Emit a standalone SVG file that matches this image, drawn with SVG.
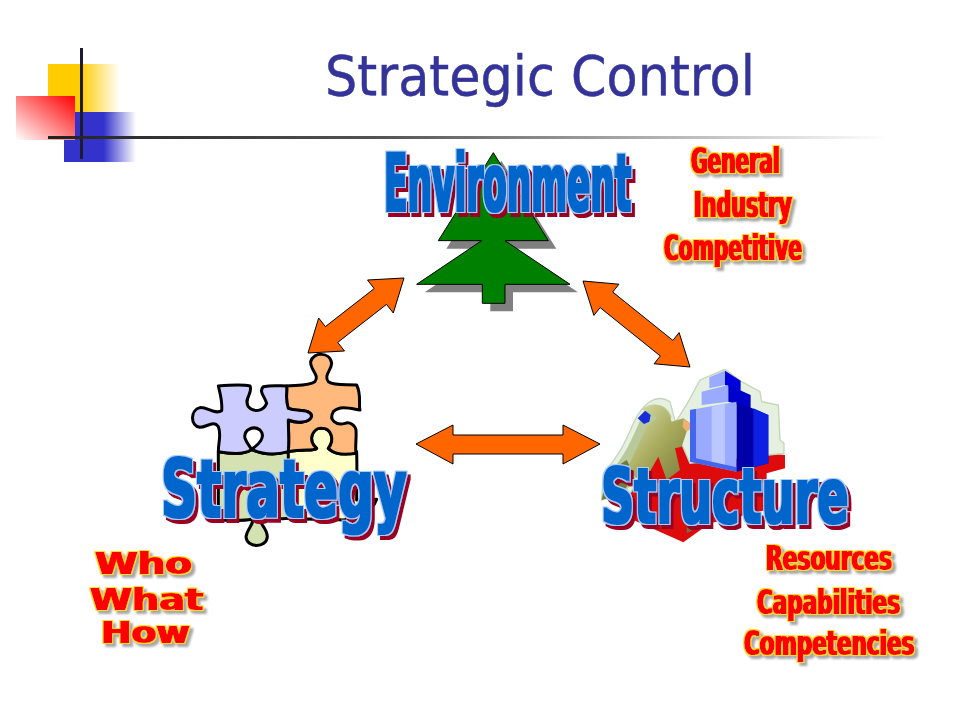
<svg xmlns="http://www.w3.org/2000/svg" width="960" height="720" viewBox="0 0 960 720">
<style>
.art{font-family:"DejaVu Sans",Verdana,sans-serif;font-weight:700;fill:#0066cc;filter:url(#bigArt)}
.sub{font-family:"DejaVu Sans",Verdana,sans-serif;font-weight:700;fill:#ff0000;filter:url(#smallArt)}
.arrow{fill:#ff6600;stroke:#000;stroke-width:1}
.pz{stroke:#000;stroke-width:9;stroke-linejoin:round}
</style>
<defs>
<linearGradient id="gy" x1="0" x2="1" y1="0" y2="0"><stop offset="0.45" stop-color="#ffcc00"/><stop offset="1" stop-color="#ffcc00" stop-opacity="0"/></linearGradient>
<linearGradient id="gb" x1="0" x2="1" y1="0" y2="0"><stop offset="0.55" stop-color="#3333cc"/><stop offset="1" stop-color="#3333cc" stop-opacity="0"/></linearGradient>
<linearGradient id="gr" x1="1" x2="0" y1="0" y2="1"><stop offset="0" stop-color="#ff0000"/><stop offset="1" stop-color="#ffffff"/></linearGradient>
<linearGradient id="gl" x1="0" x2="1" y1="0" y2="0"><stop offset="0" stop-color="#222222"/><stop offset="0.4" stop-color="#555555"/><stop offset="1" stop-color="#555555" stop-opacity="0"/></linearGradient>
<linearGradient id="gp" x1="0" x2="1" y1="0" y2="1"><stop offset="0" stop-color="#dfe6b8"/><stop offset="0.5" stop-color="#a8aa5c"/><stop offset="1" stop-color="#77783a"/></linearGradient>
<filter id="bigArt" x="-5%" y="-15%" width="110%" height="130%">
<feMorphology in="SourceAlpha" operator="dilate" radius="1.1 0.5" result="body"/>
<feMorphology in="SourceAlpha" operator="dilate" radius="2.1 1.6" result="edge"/>
<feOffset in="edge" dx="3" dy="4" result="sh"/>
<feFlood flood-color="#990022"/><feComposite in2="sh" operator="in" result="shadow"/>
<feFlood flood-color="#a6cfff"/><feComposite in2="edge" operator="in" result="halo"/>
<feFlood flood-color="#0066cc"/><feComposite in2="body" operator="in" result="fill"/>
<feMerge><feMergeNode in="shadow"/><feMergeNode in="halo"/><feMergeNode in="fill"/></feMerge>
</filter>
<filter id="smallArt" x="-8%" y="-20%" width="116%" height="140%">
<feMorphology in="SourceAlpha" operator="dilate" radius="0.7 0.3" result="body"/>
<feMorphology in="SourceAlpha" operator="dilate" radius="1.5 1.1" result="edge"/>
<feOffset in="edge" dx="2.5" dy="2.5"/><feGaussianBlur stdDeviation="0.8" result="sh"/>
<feFlood flood-color="#a8a8a8"/><feComposite in2="sh" operator="in" result="shadow"/>
<feFlood flood-color="#ffdd22"/><feComposite in2="edge" operator="in" result="halo"/>
<feFlood flood-color="#ff0000"/><feComposite in2="body" operator="in" result="fill"/>
<feMerge><feMergeNode in="shadow"/><feMergeNode in="halo"/><feMergeNode in="fill"/></feMerge>
</filter>
</defs>
<rect width="960" height="720" fill="#fff"/>
<g id="decoration">
<rect x="48" y="64" width="72" height="50" fill="url(#gy)"/>
<rect x="64" y="112" width="72" height="50" fill="url(#gb)"/>
<rect x="16" y="96" width="59" height="44" fill="url(#gr)"/>
<rect x="80" y="48" width="3" height="111" fill="#1c1c2c"/>
<rect x="48" y="136" width="840" height="3" fill="url(#gl)"/>
</g>
<text id="title" transform="translate(325 95) scale(.905 1)" font-family="'DejaVu Sans',Verdana,sans-serif" font-size="56" fill="#333399" stroke="#333399" stroke-width=".5" textLength="475" lengthAdjust="spacingAndGlyphs">Strategic Control</text>
<g id="connectors">
<path class="arrow" d="M404 278L367.500 280L374.200 288.600L325.400 326.600L318.700 318L308 353L344.500 351L337.700 342.400L386.500 304.400L393.300 313Z"/>
<path class="arrow" d="M583 281L618.900 284.200L612.700 292L672.900 340.400L679.100 332.600L690 367L654.100 363.800L660.300 356L600.100 307.600L593.900 315.400Z"/>
<path class="arrow" d="M416 444L453 425L453 435L563 435L563 425L600 444L563 464L563 454L453 454L453 464Z"/>
</g>
<g id="environment">
<g transform="translate(370 130) scale(.3333)">
<path fill="#808080" transform="translate(24 24)" d="M370 68L535 332H405L600 463H405V520H337V463H140L335 332H205Z"/>
<path fill="#008000" stroke="#000" stroke-width="3" d="M370 68L535 332H405L600 463H405V520H337V463H140L335 332H205Z"/>
</g>
<g class="art"><text transform="translate(384 211) scale(.44 1)" font-size="80" textLength="562" lengthAdjust="spacingAndGlyphs">Environment</text></g>
<g class="sub"><text transform="translate(691 173) scale(.58 1)" font-size="36" textLength="153" lengthAdjust="spacingAndGlyphs">General</text></g>
<g class="sub"><text transform="translate(694 217) scale(.6 1)" font-size="36" textLength="163" lengthAdjust="spacingAndGlyphs">Industry</text></g>
<g class="sub"><text transform="translate(664 260) scale(.58 1)" font-size="36" textLength="238" lengthAdjust="spacingAndGlyphs">Competitive</text></g>
</g>
<g id="strategy">
<g transform="translate(150 340) scale(.3333)">
<path class="pz" style="fill:#d3e2b0" d="M205 335C260 345 290 340 305 328C340 345 380 345 415 335C418 400 415 470 415 535C390 540 350 530 330 535C325 550 350 560 352 590C350 625 290 625 288 590C292 565 315 550 305 538C270 545 235 540 205 540Z"/>
<path class="pz" style="fill:#ffffcc" d="M415 335C460 325 490 335 500 325C470 300 490 262 515 265C545 265 555 300 535 325C555 345 590 345 620 335C622 400 620 470 620 480L680 478C670 510 640 530 580 540C530 535 470 540 415 535Z"/>
<path class="pz" style="fill:#ffb97d" d="M410 138C440 135 480 138 495 125C510 105 480 90 482 65C490 35 540 35 545 70C545 90 520 105 535 125C555 138 590 132 620 135C635 165 625 190 630 210C600 205 570 195 550 215C535 240 560 258 585 250C600 245 615 255 618 270C620 295 615 320 618 340C590 345 555 345 535 325C555 300 545 265 515 265C490 262 470 300 500 325C490 335 460 325 415 335C418 300 415 270 415 240C440 250 480 250 485 228C480 205 440 215 415 205C405 180 412 160 410 138Z"/>
<path class="pz" style="fill:#ccccff" d="M205 138C240 135 275 132 300 138C310 160 280 175 295 200C310 218 340 215 350 190C345 170 325 155 340 140C365 135 390 138 410 138C412 160 405 180 415 205C440 215 480 205 485 228C480 250 440 250 415 240C415 270 418 300 415 335C380 345 340 345 305 328C325 315 350 290 330 270C310 255 280 270 285 295C290 310 300 320 305 328C290 340 260 345 205 335C205 305 215 285 205 260C190 240 170 262 150 262C120 258 120 210 150 203C170 200 195 225 215 212C218 185 210 160 205 138Z"/>
</g>
<g class="art"><text transform="translate(161 517) scale(.67 1)" font-size="80" textLength="367" lengthAdjust="spacingAndGlyphs">Strategy</text></g>
<g class="sub"><text transform="translate(95 574) scale(1.26 1)" font-size="31" textLength="77" lengthAdjust="spacingAndGlyphs">Who</text></g>
<g class="sub"><text transform="translate(90 610) scale(1.23 1)" font-size="31" textLength="92" lengthAdjust="spacingAndGlyphs">What</text></g>
<g class="sub"><text transform="translate(101 643) scale(1.17 1)" font-size="31" textLength="76" lengthAdjust="spacingAndGlyphs">How</text></g>
</g>
<g id="structure">
<g transform="translate(590 360) scale(.3333)">
<path fill="#dd0b0b" d="M200 290L300 230L535 280L585 285V325L530 340V450L360 490L280 547L130 480L110 400Z"/>
<path fill="#7a6a4a" d="M290 520L350 490L290 495Z"/>
<path fill="#e6f0e0" stroke="#c4d6bc" stroke-width="4" d="M295 125L330 60L405 28L455 65L510 95L515 125L565 135L570 240L582 250V280L535 285L300 310L270 240L240 125C200 100 160 125 130 190C105 250 85 290 40 340L35 420L120 400L200 280Z"/>
<path fill="#b9c99a" d="M245 170C225 125 185 125 160 160C135 215 115 270 75 320L50 400L110 390L200 270Z"/>
<path fill="#6f7a3c" d="M35 420L50 340L110 300L130 340L100 400Z"/>
<path fill="url(#gp)" d="M150 150C190 120 230 130 245 185L280 175L300 190L290 215L275 260L255 265L270 330L230 360L205 290L160 370L110 330L170 200L200 175C190 155 170 150 150 150Z"/>
<path fill="#1a2ed8" d="M143 175L165 152L182 165L178 185L162 192Z"/>
<path fill="#f0b070" d="M280 178L300 190L305 205L290 215L278 200Z"/>
<path fill="#99aaff" d="M358 52L405 32V75L358 85Z"/>
<path fill="#0000dd" d="M405 32L452 62V95L405 75Z"/>
<path fill="#99aaff" d="M335 95L415 75V125L335 135Z"/>
<path fill="#0000cc" d="M415 75L482 105V145L415 125Z"/>
<path fill="#99aaff" d="M300 150L440 125V335L300 305Z"/>
<path fill="#bbc8ff" d="M365 140L405 130V320L365 312Z"/>
<path fill="#4466ee" d="M300 150L318 147V295L440 322V335L300 305Z"/>
<path fill="#0000a8" d="M440 125L535 165V310L440 335Z"/>
<path fill="#0d1fe0" d="M490 145L535 165V310L490 322Z"/>
</g>
<g class="art"><text transform="translate(601 523) scale(.635 1)" font-size="76" textLength="390" lengthAdjust="spacingAndGlyphs">Structure</text></g>
<g class="sub"><text transform="translate(766 570) scale(.63 1)" font-size="34" textLength="200" lengthAdjust="spacingAndGlyphs">Resources</text></g>
<g class="sub"><text transform="translate(757 614) scale(.65 1)" font-size="34" textLength="220" lengthAdjust="spacingAndGlyphs">Capabilities</text></g>
<g class="sub"><text transform="translate(744 655) scale(.64 1)" font-size="34" textLength="266" lengthAdjust="spacingAndGlyphs">Competencies</text></g>
</g>
</svg>
